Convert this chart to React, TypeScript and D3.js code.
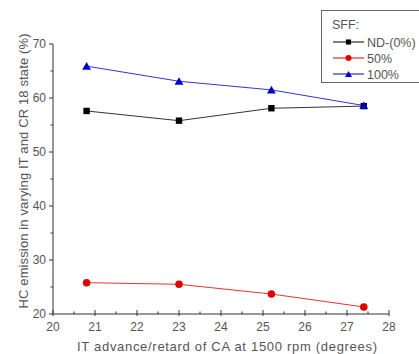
import React from "react";
import * as d3 from "d3";

const xValues = [20.8, 23.0, 25.2, 27.4];
const seriesNames = ["ND-(0%)", "50%", "100%"];
const ndValues = [57.6, 55.8, 58.1, 58.5];
const fiftyValues = [25.8, 25.5, 23.7, 21.3];
const hundredValues = [65.9, 63.1, 61.5, 58.6];
const seriesColors = ["#000000", "#e00000", "#0000cc"];
const xTicks = [20, 21, 22, 23, 24, 25, 26, 27, 28];
const yTicks = [20, 30, 40, 50, 60, 70];
const legendTitle = "SFF:";
const xLabel = "IT advance/retard of CA at 1500 rpm (degrees)";
const yLabel = "HC emission in varying IT and CR 18 state (%)";

const W = 419, H = 354;
const left = 53, right = 389, top = 44, bottom = 314;
const font = "Arial, 'Liberation Sans', sans-serif";
const textColor = "#555";

export default function App() {
  const x = d3.scaleLinear().domain([20, 28]).range([left, right]);
  const y = d3.scaleLinear().domain([20, 70]).range([bottom, top]);
  const line = d3.line<[number, number]>().x(d => x(d[0])).y(d => y(d[1]));
  const allSeries = [ndValues, fiftyValues, hundredValues];
  const xMinor = d3.range(20.5, 28, 1);
  const yMinor = d3.range(25, 70, 10);
  const tri = d3.symbol().type(d3.symbolTriangle).size(34)();

  const marker = (i: number, cx: number, cy: number, k: string, s = 1) => {
    const c = seriesColors[i];
    if (i === 0) return <rect key={k} x={cx - 3.2 * s} y={cy - 3.2 * s} width={6.4 * s} height={6.4 * s} fill={c} />;
    if (i === 1) return <circle key={k} cx={cx} cy={cy} r={3.8 * s} fill={c} />;
    return <path key={k} d={tri as string} transform={`translate(${cx},${cy + 1}) scale(${s})`} fill={c} />;
  };

  return (
    <svg width={W} height={H} style={{ position: "absolute", left: 0, top: 0, background: "#fff" }}>
      <line x1={left} x2={left} y1={top} y2={bottom} stroke="#333" strokeWidth={1} />
      <line x1={left} x2={right} y1={bottom} y2={bottom} stroke="#333" strokeWidth={1} />
      {yTicks.map(t => (
        <g key={"yt" + t}>
          <line x1={left - 4} x2={left} y1={y(t)} y2={y(t)} stroke="#333" />
          <text x={left - 7} y={y(t) + 4} textAnchor="end" fontSize={12} fontFamily={font} fill={textColor}>{t}</text>
        </g>
      ))}
      {yMinor.map(t => (
        <line key={"ym" + t} x1={left - 2.5} x2={left} y1={y(t)} y2={y(t)} stroke="#333" />
      ))}
      {xTicks.map(t => (
        <g key={"xt" + t}>
          <line x1={x(t)} x2={x(t)} y1={bottom - 4} y2={bottom + 2} stroke="#333" />
          <text x={x(t)} y={bottom + 17} textAnchor="middle" fontSize={12} fontFamily={font} fill={textColor}>{t}</text>
        </g>
      ))}
      {xMinor.map(t => (
        <line key={"xm" + t} x1={x(t)} x2={x(t)} y1={bottom - 2.5} y2={bottom} stroke="#333" />
      ))}
      {allSeries.map((vals, i) => (
        <path key={"l" + i} d={line(xValues.map((xv, j) => [xv, vals[j]] as [number, number])) || ""}
          fill="none" stroke={seriesColors[i]} strokeWidth={1} opacity={0.8} />
      ))}
      {allSeries.map((vals, i) => vals.map((v, j) => marker(i, x(xValues[j]), y(v), `m${i}-${j}`)))}
      <text x={227} y={351} textAnchor="middle" fontSize={13} fontFamily={font} fill={textColor}
        textLength={300} lengthAdjust="spacing">{xLabel}</text>
      <text transform={`translate(28,171) rotate(-90)`} textAnchor="middle" fontSize={13} fontFamily={font} fill={textColor}
        textLength={275} lengthAdjust="spacing">{yLabel}</text>
      <rect x={321.5} y={10.5} width={110} height={72} fill="#fff" stroke="#666" strokeWidth={1} />
      <text x={332} y={29} fontSize={12.5} fontFamily={font} fill={textColor}>{legendTitle}</text>
      {seriesNames.map((n, i) => {
        const ly = 42 + i * 16;
        return (
          <g key={"lg" + i}>
            <line x1={333} x2={364} y1={ly} y2={ly} stroke={seriesColors[i]} strokeWidth={1} />
            {marker(i, 348.5, ly, "lm" + i, 0.8)}
            <text x={367} y={ly + 4.5} fontSize={12.5} fontFamily={font} fill={textColor}>{n}</text>
          </g>
        );
      })}
    </svg>
  );
}
